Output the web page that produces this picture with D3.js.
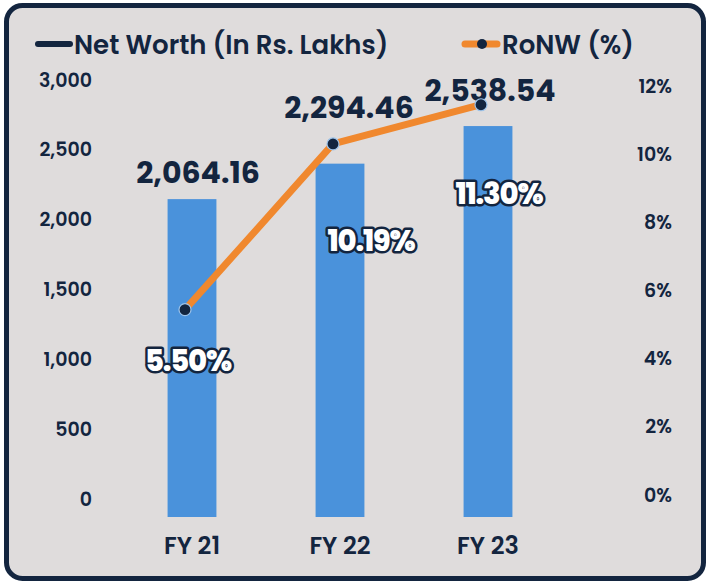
<!DOCTYPE html>
<html>
<head>
<meta charset="utf-8">
<script src="https://cdn.jsdelivr.net/npm/d3@7"></script>
<style>
  body { margin: 0; background: #ffffff; }
  svg { display: block; font-family: "Poppins", "Open Sans", "Noto Sans", sans-serif; }
</style>
</head>
<body>
<div id="chart"></div>
<script>
const categories = ["FY 21", "FY 22", "FY 23"];
const netWorth = [2064.16, 2294.46, 2538.54];
const ronw = [5.50, 10.19, 11.30];
const leftTicks = [0, 500, 1000, 1500, 2000, 2500, 3000];
const rightTicks = [0, 2, 4, 6, 8, 10, 12];

const width = 707, height = 583;
const navy = "#13253f", barColor = "#4a92db", orange = "#f0882e", bg = "#dfdcdc";

const svg = d3.select("#chart").append("svg")
    .attr("width", width)
    .attr("height", height);

svg.append("rect")
    .attr("x", 6.5).attr("y", 5.5)
    .attr("width", width - 10).attr("height", height - 10)
    .attr("rx", 16)
    .style("fill", bg)
    .style("stroke", navy)
    .style("stroke-width", 5);

const x = d3.scaleBand()
    .domain(categories)
    .range([118, 562])
    .paddingInner(0.67)
    .paddingOuter(0.335);

// bars, line and tick labels don't share the exact same spacing in the original
const yBar = d3.scaleLinear().domain([0, 3000]).range([517, 55]);
const yLabels = d3.scaleLinear().domain([0, 3000]).range([499, 80]);
const yPctLabels = d3.scaleLinear().domain([0, 12]).range([495, 86]);
const yPct = d3.scaleLinear().domain([0, 12]).range([504, 80]);

function styleTicks(g, size) {
    g.attr("font-family", null).attr("font-size", null);
    g.select(".domain").remove();
    g.selectAll("text")
        .style("font-size", size)
        .style("font-weight", 600)
        .style("fill", navy);
}

svg.append("g")
    .attr("transform", "translate(92,0)")
    .call(d3.axisLeft(yLabels).tickValues(leftTicks).tickSize(0).tickPadding(0).tickFormat(d3.format(",")))
    .call(styleTicks, "19px");

svg.append("g")
    .attr("transform", "translate(672,0)")
    .call(d3.axisLeft(yPctLabels).tickValues(rightTicks).tickSize(0).tickPadding(0).tickFormat(d => d + "%"))
    .call(styleTicks, "19px");

svg.append("g")
    .attr("transform", "translate(0,532)")
    .call(d3.axisBottom(x).tickSize(0).tickPadding(0))
    .call(styleTicks, "24px")
    .selectAll("text")
        .attr("dy", "0.9em");

svg.selectAll(".bar")
    .data(netWorth)
  .enter().append("rect")
    .attr("class", "bar")
    .attr("x", (d, i) => x(categories[i]))
    .attr("width", x.bandwidth())
    .attr("y", d => yBar(d))
    .attr("height", d => yBar(0) - yBar(d))
    .style("fill", barColor);

// value labels above the bars, nudged to clear the line
const valueOffsets = [[6, -16], [9, -46], [2, -25]];
svg.selectAll(".value")
    .data(netWorth)
  .enter().append("text")
    .attr("class", "value")
    .attr("x", (d, i) => x(categories[i]) + x.bandwidth() / 2 + valueOffsets[i][0])
    .attr("y", (d, i) => yBar(d) + valueOffsets[i][1])
    .attr("text-anchor", "middle")
    .style("font-size", "30px")
    .style("font-weight", 700)
    .style("fill", navy)
    .text(d => d3.format(",.2f")(d));

const lineX = (d, i) => x(categories[i]) + x.bandwidth() / 2 - 7;

const line = d3.line()
    .x(lineX)
    .y(d => yPct(d));

svg.append("path")
    .attr("d", line(ronw))
    .style("fill", "none")
    .style("stroke", orange)
    .style("stroke-width", 7)
    .style("stroke-linejoin", "round");

svg.selectAll(".dot")
    .data(ronw)
  .enter().append("circle")
    .attr("class", "dot")
    .attr("cx", lineX)
    .attr("cy", d => yPct(d))
    .attr("r", 6)
    .style("fill", navy)
    .style("stroke", "#9cc3ea")
    .style("stroke-width", 1.2);

// percentage labels
const pctOffsets = [[-4, 61], [31, 107], [11, 99]];
svg.selectAll(".pct")
    .data(ronw)
  .enter().append("text")
    .attr("class", "pct")
    .attr("x", (d, i) => x(categories[i]) + x.bandwidth() / 2 + pctOffsets[i][0])
    .attr("y", (d, i) => yPct(d) + pctOffsets[i][1])
    .attr("text-anchor", "middle")
    .style("font-size", "29px")
    .style("font-weight", 800)
    .style("letter-spacing", "-1.2px")
    .style("fill", "#ffffff")
    .style("stroke", navy)
    .style("stroke-width", 5)
    .style("stroke-linejoin", "round")
    .style("paint-order", "stroke")
    .text(d => d3.format(".2f")(d) + "%");

// legend
const legend = svg.append("g");
legend.append("line")
    .attr("x1", 38).attr("x2", 70).attr("y1", 44).attr("y2", 44)
    .style("stroke", navy).style("stroke-width", 6).style("stroke-linecap", "round");
legend.append("text")
    .attr("x", 74).attr("y", 54)
    .style("font-size", "26px").style("font-weight", 600).style("fill", navy)
    .text("Net Worth (In Rs. Lakhs)");
legend.append("line")
    .attr("x1", 465).attr("x2", 497).attr("y1", 44).attr("y2", 44)
    .style("stroke", orange).style("stroke-width", 7).style("stroke-linecap", "round");
legend.append("circle")
    .attr("cx", 482).attr("cy", 44).attr("r", 5)
    .style("fill", navy);
legend.append("text")
    .attr("x", 502).attr("y", 54)
    .style("font-size", "26px").style("font-weight", 600).style("fill", navy)
    .text("RoNW (%)");
</script>
</body>
</html>
